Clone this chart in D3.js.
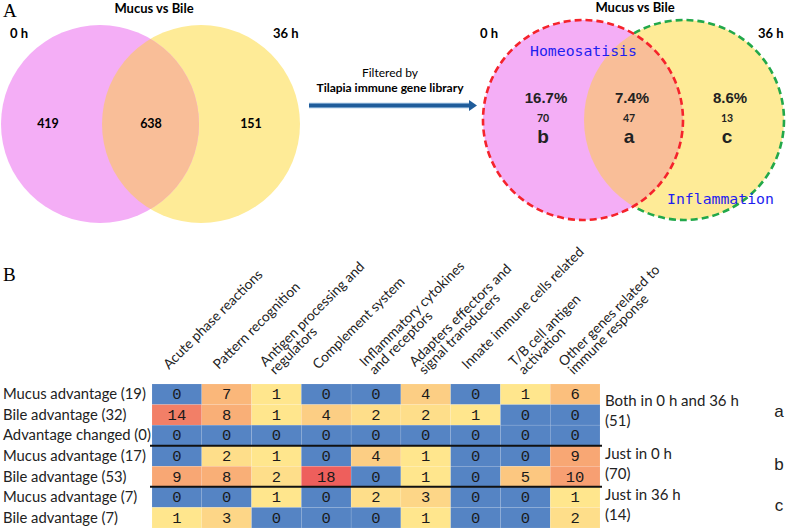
<!DOCTYPE html>
<html><head><meta charset="utf-8">
<script src="https://cdn.jsdelivr.net/npm/d3@7"></script>
<style>body{margin:0;background:#fff} svg{display:block}</style>
</head><body>
<svg id="c" width="787" height="531"></svg>
<script>
// ---------- data ----------
const vennTitle = "Mucus vs Bile";
const vennSets = ["0 h", "36 h"];
const vennAllCounts = [419, 638, 151];           // only 0 h, both, only 36 h
const vennImmunePercents = ["16.7%", "7.4%", "8.6%"];
const vennImmuneCounts = [70, 47, 13];
const vennImmuneGroups = ["b", "a", "c"];
const vennImmuneThemes = ["Homeosatisis", "Inflammation"];
const filterText = ["Filtered by", "Tilapia immune gene library"];

const categories = [
  ["Acute phase reactions"],
  ["Pattern recognition"],
  ["Antigen processing and", "regulators"],
  ["Complement system"],
  ["Inflammatory cytokines", "and receptors"],
  ["Adapters effectors and", "signal transducers"],
  ["Innate immune cells related"],
  ["T/B cell antigen", "activation"],
  ["Other genes related to", "immune response"]
];
const rowLabels = [
  "Mucus advantage (19)", "Bile advantage (32)", "Advantage changed (0)",
  "Mucus advantage (17)", "Bile advantage (53)",
  "Mucus advantage (7)", "Bile advantage (7)"
];
const values = [
  [0, 7, 1, 0, 0, 4, 0, 1, 6],
  [14, 8, 1, 4, 2, 2, 1, 0, 0],
  [0, 0, 0, 0, 0, 0, 0, 0, 0],
  [0, 2, 1, 0, 4, 1, 0, 0, 9],
  [9, 8, 2, 18, 0, 1, 0, 5, 10],
  [0, 0, 1, 0, 2, 3, 0, 0, 1],
  [1, 3, 0, 0, 0, 1, 0, 0, 2]
];
const groupLabels = [["Both in 0 h and 36 h", "(51)"], ["Just in 0 h", "(70)"], ["Just in 36 h", "(14)"]];
const groupLetters = ["a", "b", "c"];
const groupRows = [[0, 2], [3, 4], [5, 6]];

// ---------- drawing ----------
const svg = d3.select("#c");
const defs = svg.append("defs");
const LATO = "Lato, 'Open Sans', sans-serif";
const PINK = "#F4AEF6", YEL = "#FEEB97", PEACH = "#F9BE98";

svg.append("text").attr("x", 3).attr("y", 17).text("A")
  .attr("font-family", "'Liberation Serif', 'DejaVu Serif', serif").attr("font-size", 19);
svg.append("text").attr("x", 3).attr("y", 281).text("B")
  .attr("font-family", "'Liberation Serif', 'DejaVu Serif', serif").attr("font-size", 19);

function venn(cx1, cx2, cy, r, id) {
  const g = svg.append("g");
  defs.append("clipPath").attr("id", "clip" + id).append("circle").attr("cx", cx1).attr("cy", cy).attr("r", r);
  g.append("circle").attr("cx", cx2).attr("cy", cy).attr("r", r).attr("fill", YEL);
  g.append("circle").attr("cx", cx1).attr("cy", cy).attr("r", r).attr("fill", PINK);
  g.append("circle").attr("cx", cx2).attr("cy", cy).attr("r", r).attr("fill", PEACH)
    .attr("clip-path", `url(#clip${id})`);
  return g;
}

// Left venn (all genes)
const L = {cx1: 100, cx2: 201, cy: 124, r: 99};
venn(L.cx1, L.cx2, L.cy, L.r, "L");
svg.append("text").attr("x", 154).attr("y", 13).attr("text-anchor", "middle").text(vennTitle)
  .attr("font-family", LATO).attr("font-weight", 700).attr("font-size", 13);
svg.append("text").attr("x", 10).attr("y", 38).text(vennSets[0])
  .attr("font-family", LATO).attr("font-weight", 700).attr("font-size", 13);
svg.append("text").attr("x", 273).attr("y", 38).text(vennSets[1])
  .attr("font-family", LATO).attr("font-weight", 700).attr("font-size", 13);
const leftX = [48, 151, 251];
vennAllCounts.forEach((v, i) => {
  svg.append("text").attr("x", leftX[i]).attr("y", 128).attr("text-anchor", "middle").text(v)
    .attr("font-family", LATO).attr("font-weight", 700).attr("font-size", 12.5);
});

// Arrow + filter text
svg.append("text").attr("x", 390).attr("y", 77).attr("text-anchor", "middle").text(filterText[0])
  .attr("font-family", LATO).attr("font-size", 12);
svg.append("text").attr("x", 390).attr("y", 92).attr("text-anchor", "middle").text(filterText[1])
  .attr("font-family", LATO).attr("font-weight", 700).attr("font-size", 12);
svg.append("line").attr("x1", 309).attr("x2", 471).attr("y1", 105.5).attr("y2", 105.5)
  .attr("stroke", "#8db3d8").attr("stroke-width", 5.5);
svg.append("line").attr("x1", 309).attr("x2", 471).attr("y1", 105.5).attr("y2", 105.5)
  .attr("stroke", "#1f5c9a").attr("stroke-width", 3.5);
svg.append("path").attr("d", "M469,100 L477,105.5 L469,111 Z").attr("fill", "#1f5c9a");

// Right venn (immune genes)
const R = {cx1: 583, cx2: 684, cy: 120, r: 100};
const gR = venn(R.cx1, R.cx2, R.cy, R.r, "R");
const mask = defs.append("mask").attr("id", "outsideRed");
mask.append("rect").attr("width", 787).attr("height", 531).attr("fill", "#fff");
mask.append("circle").attr("cx", R.cx1).attr("cy", R.cy).attr("r", R.r).attr("fill", "#000");
gR.append("circle").attr("cx", R.cx2).attr("cy", R.cy).attr("r", R.r).attr("fill", "none")
  .attr("stroke", "#22a84a").attr("stroke-width", 2.6).attr("stroke-dasharray", "7,4")
  .attr("mask", "url(#outsideRed)");
gR.append("circle").attr("cx", R.cx1).attr("cy", R.cy).attr("r", R.r).attr("fill", "none")
  .attr("stroke", "#f5232b").attr("stroke-width", 2.6).attr("stroke-dasharray", "7,4");
svg.append("text").attr("x", 635).attr("y", 12).attr("text-anchor", "middle").text(vennTitle)
  .attr("font-family", LATO).attr("font-weight", 700).attr("font-size", 13);
svg.append("text").attr("x", 480).attr("y", 38).text(vennSets[0])
  .attr("font-family", LATO).attr("font-weight", 700).attr("font-size", 13);
svg.append("text").attr("x", 758).attr("y", 38).text(vennSets[1])
  .attr("font-family", LATO).attr("font-weight", 700).attr("font-size", 13);
svg.append("text").attr("x", 530).attr("y", 56).text(vennImmuneThemes[0])
  .attr("font-family", "'DejaVu Sans Mono', monospace").attr("font-size", 14.8).attr("fill", "#1e1ef0");
svg.append("text").attr("x", 667).attr("y", 204).text(vennImmuneThemes[1])
  .attr("font-family", "'DejaVu Sans Mono', monospace").attr("font-size", 14.8).attr("fill", "#1e1ef0");
const rightX = [546, 632, 730];
vennImmunePercents.forEach((p, i) => {
  svg.append("text").attr("x", rightX[i]).attr("y", 103).attr("text-anchor", "middle").text(p)
    .attr("font-family", "'Liberation Sans', Arial, sans-serif").attr("font-weight", 700).attr("font-size", 15).attr("fill", "#222");
  svg.append("text").attr("x", rightX[i] - 3).attr("y", 122).attr("text-anchor", "middle").text(vennImmuneCounts[i])
    .attr("font-family", LATO).attr("font-weight", 700).attr("font-size", 10.5).attr("fill", "#222");
  svg.append("text").attr("x", rightX[i] - 3).attr("y", 143).attr("text-anchor", "middle").text(vennImmuneGroups[i])
    .attr("font-family", "'Liberation Sans', Arial, sans-serif").attr("font-weight", 700).attr("font-size", 19).attr("fill", "#222");
});

// ---------- heatmap ----------
const x = d3.scaleBand().domain(d3.range(categories.length)).range([152, 600]);
const y = d3.scaleBand().domain(d3.range(rowLabels.length)).range([384, 528]);
const warm = d3.scaleLinear().domain([1, 8, 18]).range(["#FFE68D", "#F9AF77", "#EE5F5C"]);
const color = v => v === 0 ? "#5584C4" : warm(v);

const cells = [];
values.forEach((row, r) => row.forEach((v, c) => cells.push({r, c, v})));
const hm = svg.append("g");
hm.selectAll("rect").data(cells).join("rect")
  .attr("x", d => x(d.c)).attr("y", d => y(d.r))
  .attr("width", x.bandwidth()).attr("height", y.bandwidth())
  .attr("fill", d => color(d.v))
  .attr("stroke", "rgba(255,255,255,0.2)").attr("stroke-width", 0.5);
hm.selectAll("text").data(cells).join("text")
  .attr("x", d => x(d.c) + x.bandwidth() / 2).attr("y", d => y(d.r) + y.bandwidth() / 2 + 5)
  .attr("text-anchor", "middle").text(d => d.v)
  .attr("font-family", "'Liberation Mono', 'Courier New', monospace").attr("font-size", 15.5).attr("fill", "#1a1a1a");

// group separators
groupRows.slice(1).forEach(g => {
  svg.append("line").attr("x1", 150).attr("x2", 602)
    .attr("y1", y(g[0])).attr("y2", y(g[0]))
    .attr("stroke", "#111").attr("stroke-width", 2);
});

// column headers
categories.forEach((lines, i) => {
  const cx = x(i) + x.bandwidth() / 2;
  const g = svg.append("g").attr("transform", `translate(${cx - 8},${370}) rotate(-45)`);
  lines.forEach((t, k) => {
    const dy = lines.length === 1 ? 0 : (k === 0 ? -4 : 8.5);
    g.append("text").attr("x", lines.length === 1 ? 0 : (k === 0 ? 0 : 1)).attr("y", dy).text(t)
      .attr("font-family", LATO).attr("font-size", 13.8).attr("fill", "#222");
  });
});

// row labels
rowLabels.forEach((t, r) => {
  svg.append("text").attr("x", 3).attr("y", y(r) + y.bandwidth() / 2 + 5).text(t)
    .attr("font-family", LATO).attr("font-size", 14.8).attr("fill", "#222");
});

// group labels
groupLabels.forEach((lines, gi) => {
  const [a, b] = groupRows[gi];
  const top = y(a);
  const base = gi === 0 ? top + 22 : top + 13;
  lines.forEach((t, k) => {
    svg.append("text").attr("x", 605).attr("y", base + k * 20).text(t)
      .attr("font-family", LATO).attr("font-size", 15).attr("fill", "#222");
  });
  svg.append("text").attr("x", 779).attr("y", base + 11).attr("text-anchor", "middle").text(groupLetters[gi])
    .attr("font-family", "'Liberation Sans', Arial, sans-serif").attr("font-size", 17).attr("fill", "#222");
});
</script>
</body></html>
